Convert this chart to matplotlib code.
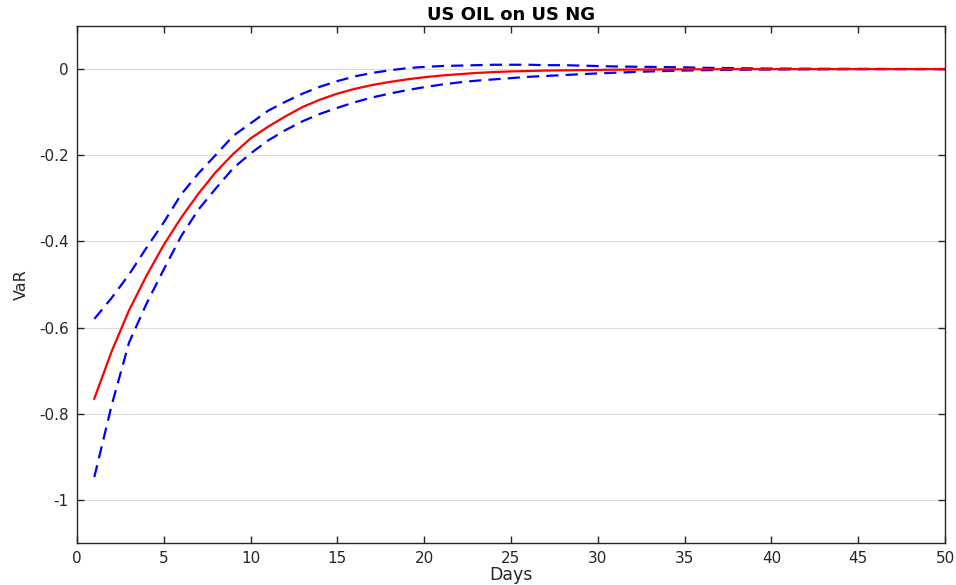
import matplotlib
matplotlib.use("Agg")
import matplotlib.pyplot as plt
from matplotlib.ticker import FuncFormatter

days = list(range(1, 51))

var_mid = [-0.765, -0.655, -0.560, -0.480, -0.408, -0.345, -0.289, -0.239, -0.197, -0.161,
           -0.134, -0.110, -0.088, -0.071, -0.057, -0.046, -0.037, -0.030, -0.024, -0.019,
           -0.015, -0.012, -0.009, -0.007, -0.0055, -0.0045, -0.0035, -0.003, -0.0025, -0.002,
           -0.0015, -0.0012, -0.001, -0.0008, -0.0006, -0.0005, -0.0004, -0.0003, -0.0002, -0.0002,
           -0.0001, -0.0001, -0.0001, -0.0001, 0.0, 0.0, 0.0, 0.0, 0.0, 0.0]

var_upper = [-0.580, -0.531, -0.477, -0.415, -0.356, -0.291, -0.242, -0.199, -0.155, -0.126,
             -0.097, -0.076, -0.057, -0.041, -0.028, -0.017, -0.009, -0.003, 0.002, 0.005,
             0.007, 0.008, 0.009, 0.010, 0.010, 0.010, 0.009, 0.009, 0.008, 0.007,
             0.006, 0.0055, 0.005, 0.0045, 0.004, 0.003, 0.0025, 0.002, 0.0015, 0.0012,
             0.001, 0.0008, 0.0006, 0.0005, 0.0004, 0.0003, 0.0002, 0.0002, 0.0001, 0.0001]

var_lower = [-0.947, -0.780, -0.635, -0.545, -0.465, -0.388, -0.326, -0.277, -0.230, -0.196,
             -0.166, -0.142, -0.121, -0.104, -0.090, -0.077, -0.066, -0.057, -0.049, -0.042,
             -0.036, -0.031, -0.027, -0.024, -0.021, -0.018, -0.016, -0.014, -0.012, -0.010,
             -0.0085, -0.007, -0.0055, -0.0045, -0.0035, -0.0028, -0.0022, -0.0017, -0.0013, -0.001,
             -0.0008, -0.0006, -0.0005, -0.0004, -0.0003, -0.0002, -0.0002, -0.0001, -0.0001, -0.0001]

xticks = [0, 5, 10, 15, 20, 25, 30, 35, 40, 45, 50]
yticks = [-1.0, -0.8, -0.6, -0.4, -0.2, 0.0]

plt.rcParams['font.family'] = ['DejaVu Sans']

fig = plt.figure(figsize=(9.56, 5.85), dpi=100)
ax = fig.add_axes([0.0805, 0.0718, 0.908, 0.8838])

ax.plot(days, var_upper, color='#0000ff', lw=1.6, linestyle=(0, (5.5, 3.2)))
ax.plot(days, var_lower, color='#0000ff', lw=1.6, linestyle=(0, (5.5, 3.2)))
ax.plot(days, var_mid, color='#ff0000', lw=1.6)

ax.set_xlim(0, 50)
ax.set_ylim(-1.1, 0.1)
ax.set_xticks(xticks)
ax.set_yticks(yticks)
ax.yaxis.set_major_formatter(FuncFormatter(lambda v, p: ('%g' % round(v, 2))))
ax.xaxis.set_major_formatter(FuncFormatter(lambda v, p: '%g' % v))

ax.grid(axis='y', color='#dcdcdc', lw=0.8)
ax.set_axisbelow(True)
ax.tick_params(direction='in', top=True, right=True, length=5, width=1.0,
               color='#262626', labelsize=11, labelcolor='#262626', pad=6)
for s in ax.spines.values():
    s.set_color('#262626')
    s.set_linewidth(1.0)

ax.set_title('US OIL on US NG', fontsize=13, fontweight='bold', pad=4)
ax.set_xlabel('Days', fontsize=12.5, labelpad=0, color='#262626')
ax.set_ylabel('VaR', fontsize=11.5, labelpad=7, color='#262626')

fig.savefig('out.png', dpi=100)
